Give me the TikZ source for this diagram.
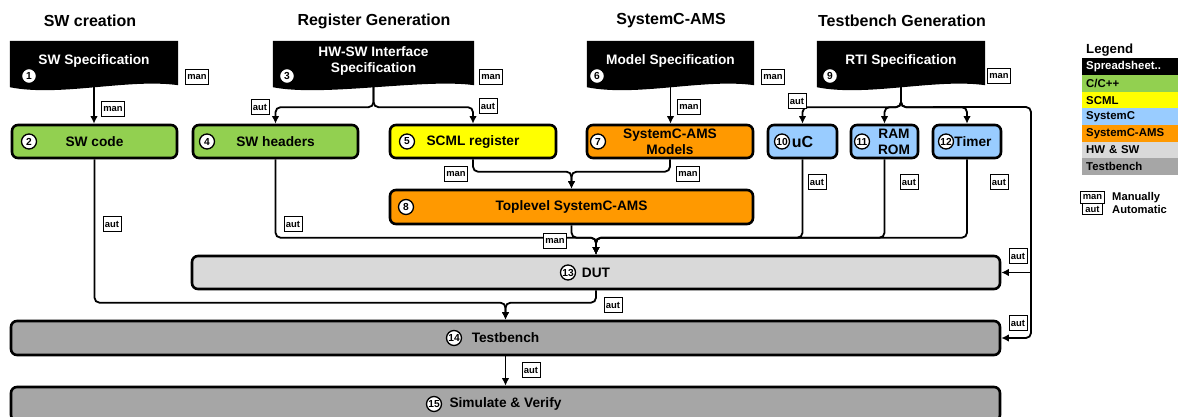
\documentclass[tikz,border=0pt]{standalone}
\usepackage{fontspec}
\setmainfont{Liberation Sans}
\usetikzlibrary{positioning,calc,arrows.meta,backgrounds}

\definecolor{swgreen}{RGB}{146,208,80}
\definecolor{scmlyellow}{RGB}{255,255,0}
\definecolor{amsorange}{RGB}{255,153,0}
\definecolor{scblue}{RGB}{153,204,255}
\definecolor{hwgray}{RGB}{217,217,217}
\definecolor{tbgray}{RGB}{166,166,166}

\tikzset{
  title/.style={font=\fontsize{16}{19}\selectfont\bfseries},
  spec/.style={text=white, font=\fontsize{13.7}{16}\selectfont\bfseries, align=center, inner sep=0, minimum height=40pt},
  box/.style={draw, line width=2.6pt, rounded corners=6pt, font=\fontsize{13.7}{16}\selectfont\bfseries, align=center, minimum height=33pt, inner sep=0},
  num/.style={circle, draw, fill=white, line width=1.3pt, minimum size=15pt, inner sep=0, font=\fontsize{10.2}{11}\selectfont\bfseries},
  tag/.style={draw, fill=white, line width=0.8pt, inner xsep=2pt, inner ysep=1.5pt, minimum height=15pt, font=\fontsize{9.4}{10}\selectfont\bfseries},
  conn/.style={line width=1.8pt, rounded corners=5pt, -{Latex[length=7.5pt,width=7.5pt]}},
  legrow/.style={anchor=west, minimum width=96pt, minimum height=16.6pt, inner xsep=4pt, text width=88pt, align=left, font=\fontsize{11.4}{13}\selectfont\bfseries},
  legtext/.style={anchor=west, inner sep=0, font=\fontsize{11.2}{13}\selectfont\bfseries},
}

% black document shape behind a spec node
\newcommand{\docfill}[1]{%
  \fill (#1.north west) -- (#1.north east) -- ([yshift=-4pt]#1.south east)
    .. controls +(-50,-7) and +(50,10) .. ([yshift=-6pt]#1.south west) -- cycle;}

\begin{document}
\begin{tikzpicture}[x=1pt,y=-1pt]
  \useasboundingbox (0,0) rectangle (1180,417);

  % column titles
  \node[title] (tsw) at (90,21) {SW creation};
  \node[title] (treg) at (374,21) {Register Generation};
  \node[title] (tams) at (671,21) {SystemC-AMS};
  \node[title] (ttb) at (902,21) {Testbench Generation};

  % specifications
  \node[spec, minimum width=168pt] (swspec) at (94,61) {SW Specification};
  \node[spec, minimum width=201pt] (hwspec) at (373.5,61) {HW-SW Interface\\Specification};
  \node[spec, minimum width=167pt] (modspec) at (670.5,61) {Model Specification};
  \node[spec, minimum width=168pt] (rtispec) at (901,61) {RTI Specification};
  \begin{pgfonlayer}{background}
    \docfill{swspec}
    \docfill{hwspec}
    \docfill{modspec}
    \docfill{rtispec}
  \end{pgfonlayer}

  % blocks
  \node[box, fill=swgreen, minimum width=165pt] (swcode) at (94.5,141.5) {SW code};
  \node[box, fill=swgreen, minimum width=165pt] (swhead) at (275.5,141.5) {SW headers};
  \node[box, fill=scmlyellow, minimum width=166pt] (scml) at (473,141.5) {SCML register};
  \node[box, fill=amsorange, minimum width=166pt] (models) at (670,141.5) {SystemC-AMS\\Models};
  \node[box, fill=scblue, minimum width=69pt, font=\fontsize{16}{18}\selectfont\bfseries] (uc) at (802.5,141.5) {uC};
  \node[box, fill=scblue, minimum width=67pt] (ram) at (884.5,141.5) {};
  \node[box, fill=scblue, minimum width=68pt] (timer) at (967,141.5) {};
  \node[box, fill=amsorange, minimum width=363pt, minimum height=34pt] (toplevel) at (571.5,207) {Toplevel SystemC-AMS};
  \node[box, fill=hwgray, minimum width=808pt] (dut) at (596,272.5) {DUT};
  \node[box, fill=tbgray, minimum width=989pt, minimum height=34pt] (tb) at (505.5,338) {Testbench};
  \node[box, fill=tbgray, minimum width=989pt, minimum height=34pt] (sim) at (505.5,404) {Simulate \& Verify};
  \node[align=center, font=\fontsize{13.7}{16}\selectfont\bfseries] (ramtxt) at (894,141.5) {RAM\\ROM};
  \node[font=\fontsize{13.7}{16}\selectfont\bfseries] (timertxt) at (973,141.5) {Timer};

  % flow
  \coordinate (hwsplit) at ($(hwspec.south)+(0,26)$);
  \coordinate (rtisplit) at ($(rtispec.south)+(0,26)$);
  \coordinate (rtop) at (1031,107);
  \coordinate (rbot) at (rtop |- tb.east);
  \coordinate (tlmerge) at ($(toplevel.north)+(0,-17)$);
  \coordinate (dutmerge) at ($(dut.north)+(0,-17)$);
  \coordinate (tbmerge) at ($(tb.north)+(0,-17)$);

  \draw[conn] (swspec.south) -- (swspec.south |- swcode.north);
  \draw[conn] (hwspec.south) -- (hwsplit) -| (swhead.north);
  \draw[conn] (hwspec.south) -- (hwsplit) -| (scml.north);
  \draw[conn] (modspec.south) -- (modspec.south |- models.north);
  \draw[conn] (rtispec.south) -- (rtisplit) -| (uc.north);
  \draw[conn] (rtispec.south) -- (rtisplit) -| (ram.north);
  \draw[conn] (rtispec.south) -- (rtisplit) -| (timer.north);
  \draw[conn] (rtispec.south) -- (rtisplit) -- (rtop) -- (rbot) -- (tb.east);
  \draw[conn] (rtop |- dut.east) -- (dut.east);
  \draw[conn] (scml.south) |- (tlmerge) -- (toplevel.north);
  \draw[conn] (models.south) |- (tlmerge) -- (toplevel.north);
  \draw[conn] (toplevel.south) |- (dutmerge) -- (dut.north);
  \draw[conn] (swhead.south) |- (dutmerge) -- (dut.north);
  \draw[conn] (uc.south) |- (dutmerge) -- (dut.north);
  \draw[conn] (ram.south) |- (dutmerge) -- (dut.north);
  \draw[conn] (timer.south) |- (dutmerge) -- (dut.north);
  \draw[conn] (swcode.south) |- (tbmerge) -- (tb.north);
  \draw[conn] (dut.south) |- (tbmerge) -- (tb.north);
  \draw[conn] (tb.south) -- (sim.north);

  % man / aut tags
  \node[tag] (tg1) at (197,77) {man};
  \node[tag] (tg2) at (113,109) {man};
  \node[tag] (tg3) at (491,77) {man};
  \node[tag] (tg4) at (260,107) {aut};
  \node[tag] (tg5) at (488,106) {aut};
  \node[tag] (tg6) at (773,77) {man};
  \node[tag] (tg7) at (689,107) {man};
  \node[tag] (tg8) at (999,76) {man};
  \node[tag] (tg9) at (797,101) {aut};
  \node[tag] (tg10) at (456,174) {man};
  \node[tag] (tg11) at (688,174) {man};
  \node[tag] (tg12) at (112,224) {aut};
  \node[tag] (tg13) at (293,224) {aut};
  \node[tag] (tg14) at (555,241) {man};
  \node[tag] (tg15) at (817,182) {aut};
  \node[tag] (tg16) at (909,182) {aut};
  \node[tag] (tg17) at (999,182) {aut};
  \node[tag] (tg18) at (1018,256) {aut};
  \node[tag] (tg19) at (613,305) {aut};
  \node[tag] (tg20) at (1018,323) {aut};
  \node[tag] (tg21) at (531,370) {aut};

  % step numbers
  \node[num] (n1) at (29,76) {1};
  \node[num] (n2) at (29,141.5) {2};
  \node[num] (n3) at (287,76) {3};
  \node[num] (n4) at (207,141.5) {4};
  \node[num] (n5) at (407,141.5) {5};
  \node[num] (n6) at (597,76) {6};
  \node[num] (n7) at (598,141.5) {7};
  \node[num] (n8) at (406,207) {8};
  \node[num] (n9) at (830,76) {9};
  \node[num] (n10) at (782,141.5) {10};
  \node[num] (n11) at (862,141.5) {11};
  \node[num] (n12) at (946,141.5) {12};
  \node[num] (n13) at (568,272.5) {13};
  \node[num] (n14) at (454,338) {14};
  \node[num] (n15) at (434,404) {15};

  % legend
  \node[anchor=west, inner sep=0, font=\fontsize{13.2}{15}\selectfont\bfseries] (leg) at (1086,50) {Legend};
  \node[legrow, fill=black, text=white] (lg1) at (1082,67) {Spreadsheet..};
  \node[legrow, fill=swgreen] (lg2) at (1082,83.6) {C/C++};
  \node[legrow, fill=scmlyellow] (lg3) at (1082,100.2) {SCML};
  \node[legrow, fill=scblue] (lg4) at (1082,116.8) {SystemC};
  \node[legrow, fill=amsorange] (lg5) at (1082,133.4) {SystemC-AMS};
  \node[legrow, fill=hwgray] (lg6) at (1082,150) {HW \& SW};
  \node[legrow, fill=tbgray] (lg7) at (1082,166.6) {Testbench};
  \node[tag, minimum width=20pt, minimum height=11.5pt, inner ysep=0] (kman) at (1092.5,197.5) {man};
  \node[tag, minimum width=20pt, minimum height=11.5pt, inner ysep=0] (kaut) at (1092.5,209) {aut};
  \node[legtext] (kmantxt) at (1112,197.5) {Manually};
  \node[legtext] (kauttxt) at (1112,209) {Automatic};
\end{tikzpicture}
\end{document}
